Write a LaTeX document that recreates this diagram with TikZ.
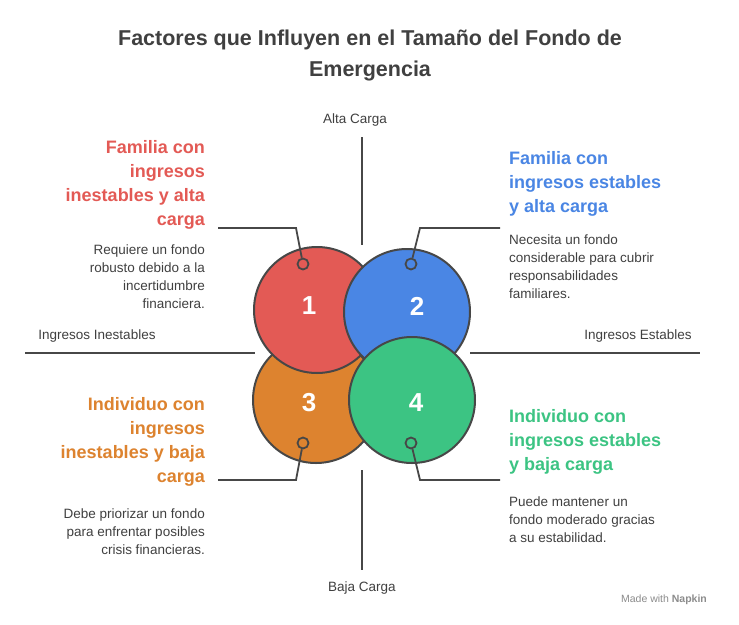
\documentclass[tikz,border=0pt]{standalone}
\usepackage{fontspec}
\setmainfont{Liberation Sans}
\begin{document}
\begin{tikzpicture}[x=1pt,y=-1pt,
  ring/.style={draw=black!72,line width=2pt},
  ax/.style={draw=black!72,line width=1.8pt},
  lead/.style={draw=black!72,line width=1.8pt},
  dot/.style={circle,draw=black!72,line width=1.8pt,minimum size=11pt,inner sep=0pt},
  num/.style={text=white,font=\fontsize{26}{28}\selectfont\bfseries},
  head/.style={font=\fontsize{18}{24}\selectfont\bfseries,inner sep=0pt},
  desc/.style={font=\fontsize{13.5}{18}\selectfont,text=black!75,inner sep=0pt},
  axl/.style={font=\fontsize{13.5}{15}\selectfont,text=black!75}]
\definecolor{cr}{HTML}{E35A55}\definecolor{cb}{HTML}{4A86E4}
\definecolor{co}{HTML}{DD832F}\definecolor{cg}{HTML}{3CC483}
\path[fill=white] (0,0) rectangle (739,624);
\node[font=\fontsize{21.5}{31}\selectfont\bfseries,text=black!75,align=center] (t) at (370,55) {Factores que Influyen en el Tamaño del Fondo de\\Emergencia};
% axes
\coordinate (vt1) at (362,137); \coordinate (vt2) at (362,245);
\coordinate (vb1) at (362,470); \coordinate (vb2) at (362,570);
\coordinate (hl1) at (25,353); \coordinate (hl2) at (255,353);
\coordinate (hr1) at (470,353); \coordinate (hr2) at (700,353);
\draw[ax] (vt1)--(vt2); \draw[ax] (vb1)--(vb2);
\draw[ax] (hl1)--(hl2); \draw[ax] (hr1)--(hr2);
\node[axl] (a1) at (355,120) {Alta Carga};
\node[axl] (a2) at (362,588) {Baja Carga};
\node[axl] (a3) at (97,336) {Ingresos Inestables};
\node[axl] (a4) at (638,336) {Ingresos Estables};
% circles
\draw[ring,fill=co] (316,400) circle (63);
\draw[ring,fill=cr] (317,310) circle (63);
\draw[ring,fill=cb] (407,312) circle (63);
\draw[ring,fill=cg] (412,400) circle (63);
\node[num] (n1) at (309,306) {1};
\node[num] (n2) at (417,306) {2};
\node[num] (n3) at (309,403) {3};
\node[num] (n4) at (416,403) {4};
\node[dot] (d1) at (303,264) {};
\node[dot] (d2) at (411,264) {};
\node[dot] (d3) at (303,443) {};
\node[dot] (d4) at (411,443) {};
\coordinate (k1) at (296,228); \coordinate (e1) at (218,228);
\coordinate (k2) at (420,228); \coordinate (e2) at (500,228);
\coordinate (k3) at (296,480); \coordinate (e3) at (218,480);
\coordinate (k4) at (420,480); \coordinate (e4) at (500,480);
\draw[lead] (d1)--(k1)--(e1); \draw[lead] (d2)--(k2)--(e2);
\draw[lead] (d3)--(k3)--(e3); \draw[lead] (d4)--(k4)--(e4);
% texts
\node[head,text=cr,align=right,anchor=north east] (h1) at (205,140) {Familia con\\ingresos\\inestables y alta\\carga};
\node[desc,align=right,anchor=north east] (p1) at (205,245) {Requiere un fondo\\robusto debido a la\\incertidumbre\\financiera.};
\node[head,text=cb,align=left,anchor=north west] (h2) at (509,151) {Familia con\\ingresos estables\\y alta carga};
\node[desc,align=left,anchor=north west] (p2) at (509,235) {Necesita un fondo\\considerable para cubrir\\responsabilidades\\familiares.};
\node[head,text=co,align=right,anchor=north east] (h3) at (205,397) {Individuo con\\ingresos\\inestables y baja\\carga};
\node[desc,align=right,anchor=north east] (p3) at (205,509) {Debe priorizar un fondo\\para enfrentar posibles\\crisis financieras.};
\node[head,text=cg,align=left,anchor=north west] (h4) at (509,409) {Individuo con\\ingresos estables\\y baja carga};
\node[desc,align=left,anchor=north west] (p4) at (509,497) {Puede mantener un\\fondo moderado gracias\\a su estabilidad.};
\node[font=\fontsize{10.5}{12}\selectfont,text=black!45] (mw) at (664,600) {Made with \textbf{Napkin}};
\end{tikzpicture}
\end{document}
